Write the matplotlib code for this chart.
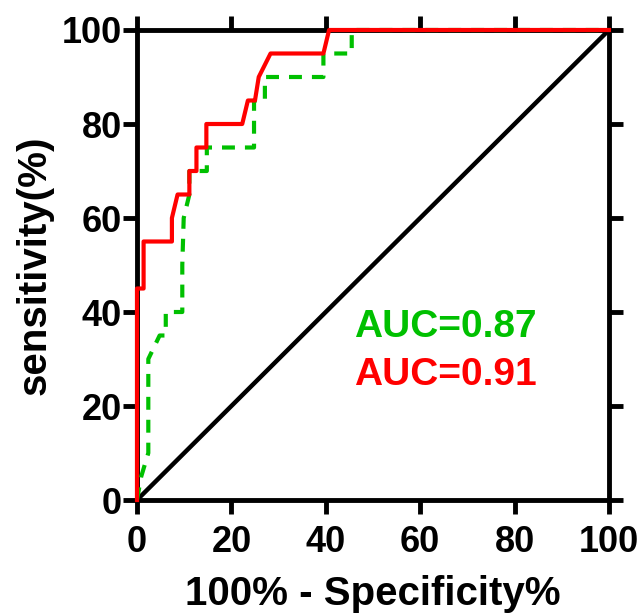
import matplotlib
matplotlib.use("Agg")
import matplotlib.pyplot as plt

# ROC curves, values (100% - specificity, sensitivity)
red_fpr = [0, 0, 1.4, 1.4, 7.4, 7.4, 8.6, 11.1, 11.1, 12.6, 12.6, 14.7, 14.7,
           22.3, 23.5, 25.0, 25.8, 28.3, 39.5, 40.7, 100]
red_tpr = [0, 45, 45, 55, 55, 60, 65, 65, 70, 70, 75, 75, 80,
           80, 85, 85, 90, 95, 95, 100, 100]

green_fpr = [0, 0.9, 2.4, 2.4, 4.8, 6.1, 6.1, 9.6, 9.6, 9.9, 11.1, 11.1, 14.8,
             14.8, 24.8, 24.8, 27.1, 27.1, 39.5, 39.5, 45.5, 45.5, 100]
green_tpr = [0, 5, 10, 30, 35, 35, 40, 40, 50, 60, 65, 70, 70,
             75, 75, 85, 85, 90, 90, 95, 95, 100, 100]

ref_line = [0, 100]
ticks = [0, 20, 40, 60, 80, 100]

auc_labels = ["AUC=0.87", "AUC=0.91"]
auc_colors = ["#00C000", "#FF0000"]

plt.rcParams["font.family"] = ["Liberation Sans", "DejaVu Sans"]
plt.rcParams["font.weight"] = "bold"

fig = plt.figure(figsize=(6.41, 6.16), dpi=100)
ax = fig.add_axes([0.2137, 0.1883, 0.7363, 0.763])

ax.plot(ref_line, ref_line, color="black", lw=3.2, zorder=3, clip_on=False)
ax.plot(green_fpr, green_tpr, color=auc_colors[0], lw=3, ls=(0, (3.1, 2.4)),
        zorder=4, clip_on=False)
ax.plot(red_fpr, red_tpr, color=auc_colors[1], lw=3, zorder=5, clip_on=False)

ax.text(46.0, 36.8, auc_labels[0], color=auc_colors[0], fontsize=28,
        fontweight="bold", va="center", ha="left")
ax.text(46.0, 26.6, auc_labels[1], color=auc_colors[1], fontsize=28,
        fontweight="bold", va="center", ha="left")

ax.set_xlim(0, 100)
ax.set_ylim(0, 100)
ax.set_xticks(ticks)
ax.set_yticks(ticks)

for s in ax.spines.values():
    s.set_linewidth(3.5)
ax.tick_params(axis="both", which="both", direction="out", length=10, width=3.5,
               top=True, right=True, labelsize=26, pad=1)
ax.tick_params(axis="x", pad=8)
for lab in ax.get_xticklabels() + ax.get_yticklabels():
    lab.set_fontweight("bold")

ax.set_xlabel("100% - Specificity%", fontsize=29, fontweight="bold", labelpad=11)
ax.set_ylabel("sensitivity(%)", fontsize=29, fontweight="bold", labelpad=6)

fig.savefig("out.png", dpi=100)
